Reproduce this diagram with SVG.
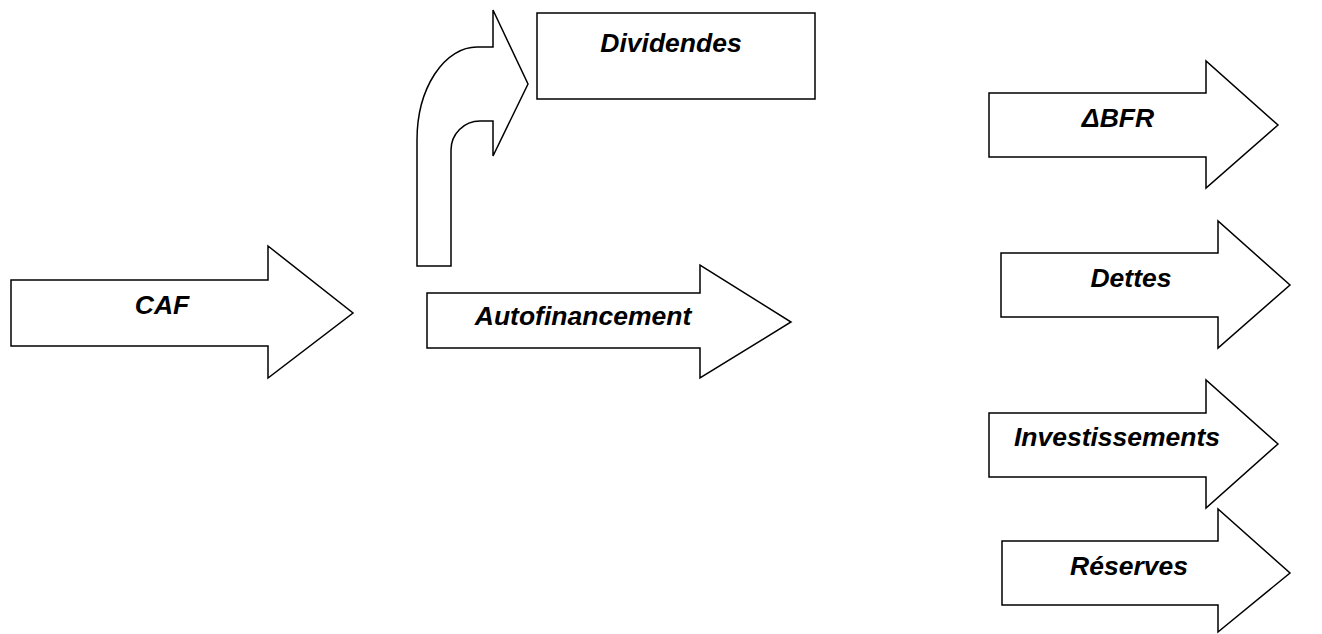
<svg xmlns="http://www.w3.org/2000/svg" width="1322" height="634" viewBox="0 0 1322 634">
<style>
.s{fill:#fff;stroke:#000;stroke-width:1.5;stroke-linejoin:miter}
.t{font-family:"Liberation Sans",Arial,sans-serif;font-weight:bold;font-style:italic;font-size:26.5px;fill:#000;text-anchor:middle}
</style>
<rect width="1322" height="634" fill="#fff"/>
<g id="caf">
<path class="s" d="M11,280 H268 V246 L353,313 L268,378 V346 H11 Z"/>
<text class="t" x="162" y="314">CAF</text>
</g>
<g id="dividendes">
<rect class="s" x="537" y="13" width="278" height="86"/>
<text class="t" x="671" y="52">Dividendes</text>
</g>
<g id="bent-arrow">
<path class="s" d="M417,266 V140 A60,93 0 0 1 477,47 H493 V10 L528,84 L493,156 V121 H480 A29,29 0 0 0 451,150 V266 Z"/>
</g>
<g id="autofinancement">
<path class="s" d="M427,293 H700 V265 L791,322 L700,378 V348 H427 Z"/>
<text class="t" x="583" y="325">Autofinancement</text>
</g>
<g id="bfr">
<path class="s" d="M989,93 H1206 V61 L1278,125 L1206,188 V157 H989 Z"/>
<text class="t" x="1118" y="127">ΔBFR</text>
</g>
<g id="dettes">
<path class="s" d="M1001,253 H1218 V221 L1290,285 L1218,348 V317 H1001 Z"/>
<text class="t" x="1131" y="287">Dettes</text>
</g>
<g id="investissements">
<path class="s" d="M989,413 H1206 V380 L1278,444 L1206,508 V477 H989 Z"/>
<text class="t" x="1117" y="446">Investissements</text>
</g>
<g id="reserves">
<path class="s" d="M1002,541 H1218 V509 L1290,573 L1218,632 V605 H1002 Z"/>
<text class="t" x="1129" y="575">Réserves</text>
</g>
<g id="connectors"></g>
</svg>
